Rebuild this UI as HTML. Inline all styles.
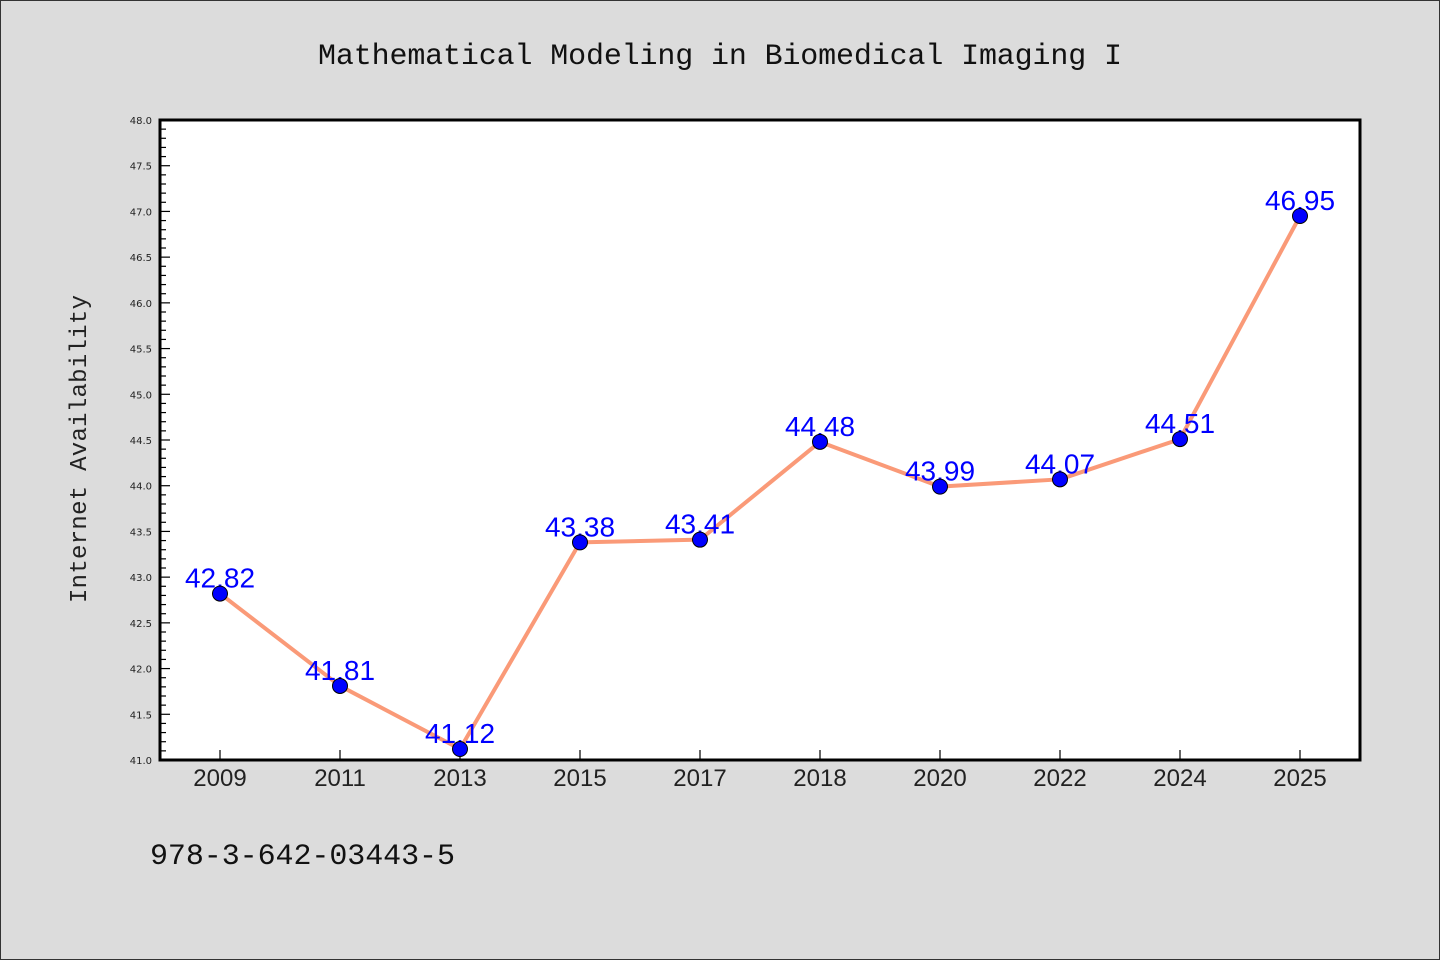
<!DOCTYPE html>
<html><head><meta charset="utf-8"><style>html,body{margin:0;padding:0;background:#dcdcdc;}svg{display:block;}</style></head>
<body>
<svg id="chart" width="1440" height="960" xmlns="http://www.w3.org/2000/svg">
<rect x="0.5" y="0.5" width="1439" height="959" fill="#dcdcdc" stroke="#333"/>
<text x="720" y="64" text-anchor="middle" font-family="'Liberation Mono', monospace" font-size="30" textLength="804" fill="#111">Mathematical Modeling in Biomedical Imaging I</text>
<rect x="160" y="120" width="1200" height="640" fill="#fff"/>
<g id="grid"></g>
<text transform="translate(86,449) rotate(-90)" text-anchor="middle" font-family="'Liberation Mono', monospace" font-size="24" textLength="308" fill="#222">Internet Availability</text>
<text x="150" y="864" font-family="'Liberation Mono', monospace" font-size="30" textLength="305" fill="#111">978-3-642-03443-5</text>
</svg>
<script>
const categories = ["2009","2011","2013","2015","2017","2018","2020","2022","2024","2025"];
const values = [42.82,41.81,41.12,43.38,43.41,44.48,43.99,44.07,44.51,46.95];
const valueLabels = ["42.82","41.81","41.12","43.38","43.41","44.48","43.99","44.07","44.51","46.95"];
const yMin = 41.0, yMax = 48.0;
const yTickLabels = ["41.0","41.5","42.0","42.5","43.0","43.5","44.0","44.5","45.0","45.5","46.0","46.5","47.0","47.5","48.0"];

const NS = "http://www.w3.org/2000/svg";
const svg = document.getElementById("chart");
const L = 160, R = 1360, T = 120, B = 760;
const xs = i => L + (R - L) / categories.length * (i + 0.5);
const ys = v => B - (v - yMin) / (yMax - yMin) * (B - T);
function mk(tag, attrs, parent) { const e = document.createElementNS(NS, tag); for (const k in attrs) e.setAttribute(k, attrs[k]); (parent || svg).appendChild(e); return e; }

// minor y ticks
for (let k = 0; k <= Math.round((yMax - yMin) * 10); k++) {
  const v = yMin + k * 0.1;
  const major = k % 5 === 0;
  const t = mk("line", {x1: L, x2: L + (major ? 10 : 6), y1: ys(v), y2: ys(v), stroke: "#000", "stroke-width": 1.2});
  
  
}
yTickLabels.forEach(s => {
  const t = mk("text", {x: L - 8, y: ys(parseFloat(s)) + 4, "text-anchor": "end", "font-family": "'DejaVu Sans', sans-serif", "font-size": 10, fill: "#222"});
  t.textContent = s;
  
  
});
categories.forEach((c, i) => {
  const tk = mk("line", {x1: xs(i), x2: xs(i), y1: B, y2: B - 10, stroke: "#000", "stroke-width": 1.2});
  
  
  const t = mk("text", {x: xs(i), y: B + 26, "text-anchor": "middle", "font-family": "'Liberation Sans', sans-serif", "font-size": 24, fill: "#222"});
  t.textContent = c;
  
  
});
// frame
const fr = mk("rect", {x: L, y: T, width: R - L, height: B - T, fill: "none", stroke: "#000", "stroke-width": 3});


// line
const pts = values.map((v, i) => xs(i) + "," + ys(v)).join(" ");
const ln = mk("polyline", {points: pts, fill: "none", stroke: "#fa9a78", "stroke-width": 4, "stroke-linejoin": "round"});


// labels
values.forEach((v, i) => {
  const t = mk("text", {x: xs(i), y: ys(v) - 6, "text-anchor": "middle", "font-family": "'Liberation Sans', sans-serif", "font-size": 28, fill: "#0000ff"});
  t.textContent = valueLabels[i];
  
  
});
// markers
values.forEach((v, i) => {
  const c = mk("circle", {cx: xs(i), cy: ys(v), r: 7.5, fill: "#0000ff", stroke: "#000", "stroke-width": 1});
  
  
});
</script>
</body></html>
